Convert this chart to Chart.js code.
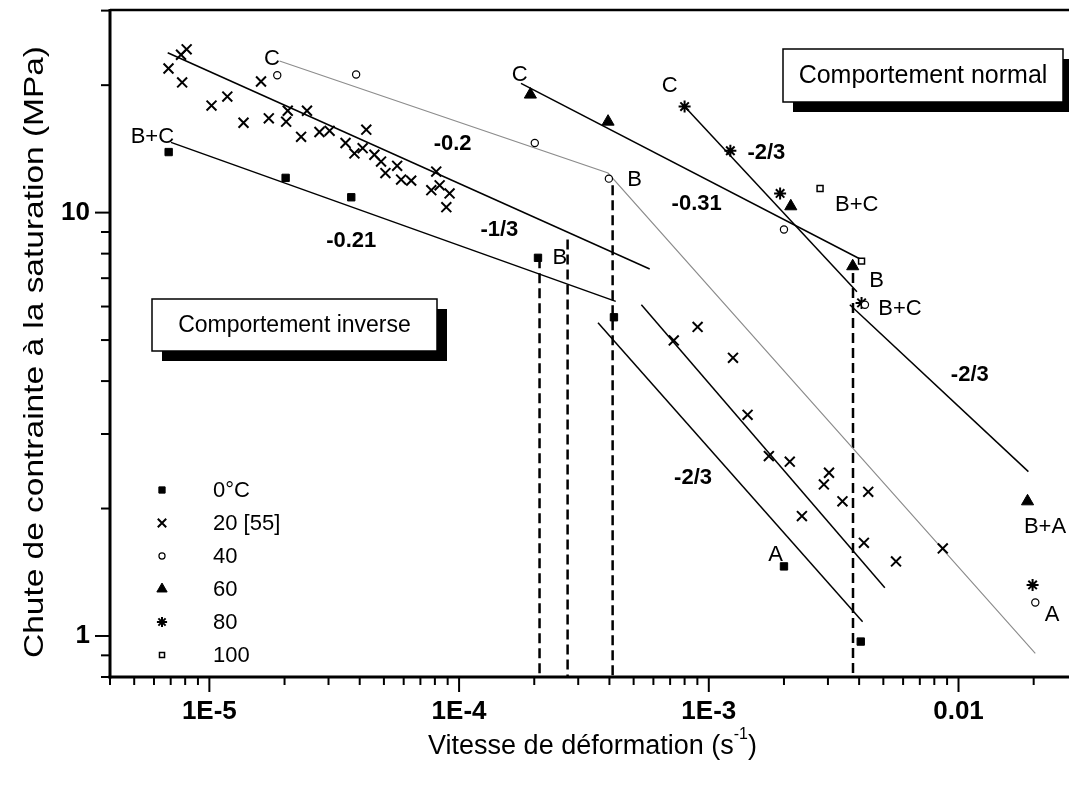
<!DOCTYPE html>
<html><head><meta charset="utf-8">
<script src="https://cdn.jsdelivr.net/npm/chart.js@4/dist/chart.umd.min.js"></script>
<style>html,body{margin:0;padding:0;background:#fff;overflow:hidden}canvas{display:block}</style>
</head><body>
<canvas id="c" width="1069" height="787"></canvas>
<script>
// ---------------- data ----------------
const seriesNames = ['0°C', '20 [55]', '40', '60', '80', '100'];

const rate0 = [6.87e-6, 2.02e-5, 3.70e-5, 2.07e-4, 4.17e-4, 2.0e-3, 4.06e-3];
const drop0 = [13.9, 12.08, 10.87, 7.82, 5.66, 1.46, 0.97];

const rate20 = [8.11e-6, 7.7e-6, 6.86e-6, 7.78e-6, 1.61e-5, 1.02e-5, 1.18e-5, 1.37e-5, 1.73e-5, 2.06e-5,
                2.46e-5, 2.03e-5, 2.33e-5, 2.76e-5, 3.03e-5, 4.25e-5, 3.51e-5, 3.81e-5, 4.11e-5, 4.58e-5,
                4.87e-5, 5.07e-5, 5.65e-5, 5.86e-5, 6.43e-5, 8.1e-5, 7.74e-5, 8.36e-5, 8.89e-5, 9.16e-5,
                7.24e-4, 9.02e-4, 1.25e-3, 1.43e-3, 1.74e-3, 2.11e-3, 3.03e-3, 2.89e-3, 3.43e-3, 4.35e-3,
                2.36e-3, 4.18e-3, 5.62e-3, 8.65e-3];
const drop20 = [24.3, 23.6, 21.9, 20.3, 20.4, 17.9, 18.8, 16.3, 16.7, 17.4,
                17.4, 16.4, 15.1, 15.5, 15.6, 15.7, 14.6, 13.8, 14.2, 13.7,
                13.2, 12.4, 12.9, 11.97, 11.9, 12.5, 11.3, 11.6, 10.3, 11.1,
                4.99, 5.37, 4.54, 3.33, 2.66, 2.58, 2.43, 2.28, 2.08, 2.19,
                1.92, 1.66, 1.50, 1.61];

const rate40 = [1.87e-5, 3.87e-5, 2.01e-4, 3.98e-4, 2.0e-3, 4.22e-3, 0.0203];
const drop40 = [21.1, 21.2, 14.6, 12.03, 9.12, 6.06, 1.20];

const rate60 = [1.93e-4, 3.95e-4, 2.13e-3, 3.77e-3, 0.0189];
const drop60 = [19.0, 16.4, 10.35, 7.47, 2.08];

const rate80 = [8.0e-4, 1.22e-3, 1.93e-3, 4.09e-3, 0.0198];
const drop80 = [17.8, 14.0, 11.1, 6.12, 1.32];

const rate100 = [2.79e-3, 4.09e-3];
const drop100 = [11.4, 7.68];

// fitted trend lines (end points)
const fit0Rate   = [7.02e-6, 4.24e-4];         const fit0Drop   = [14.65, 6.17];
const fit20Rate  = [6.81e-6, 5.8e-4];          const fit20Drop  = [23.85, 7.36];
const fit40Rate  = [1.91e-5, 3.95e-4, 0.0203]; const fit40Drop  = [22.8, 12.4, 0.91];
const fit60Rate  = [1.77e-4, 4.09e-3];         const fit60Drop  = [20.2, 7.74];
const fit80Rate  = [8.0e-4, 3.92e-3];          const fit80Drop  = [17.8, 6.5];
const fit80bRate = [3.67e-3, 0.01905];         const fit80bDrop = [6.06, 2.445];
const fit0bRate  = [3.6e-4, 4.13e-3];          const fit0bDrop  = [5.49, 1.08];
const fit20bRate = [5.37e-4, 5.07e-3];         const fit20bDrop = [6.06, 1.30];

// dashed vertical transitions
const dashRate = [2.10e-4, 2.72e-4, 4.12e-4, 3.78e-3];
const dashTop  = [7.8, 8.64, 11.6, 7.2];

// axes
const xMin = 4e-6, xMax = 0.0277, yMin = 0.8, yMax = 30.1;
const xTickValues = [1e-5, 1e-4, 1e-3, 1e-2];
const xTickLabels = ['1E-5', '1E-4', '1E-3', '0.01'];
const yTickValues = [1, 10];
const yTickLabels = ['1', '10'];

// text annotations anchored in data coordinates
const noteText = ['B+C', 'C', '-0.21', '-0.2', '-1/3', 'B', 'C', 'C', 'B', '-0.31', '-2/3', 'B+C', 'B', 'B+C', '-2/3', 'B+A', 'A', 'A', '-2/3'];
const noteRate = [5.91e-6, 1.78e-5, 3.70e-5, 9.42e-5, 1.45e-4, 2.53e-4, 1.75e-4, 6.98e-4, 5.05e-4, 8.94e-4, 1.70e-3, 3.91e-3, 4.70e-3, 5.83e-3, 0.0111, 0.0222, 0.0237, 1.85e-3, 8.65e-4];
const noteDrop = [15.1, 23.06, 8.55, 14.5, 9.12, 7.83, 21.2, 19.95, 11.97, 10.5, 13.8, 10.45, 6.88, 5.92, 4.14, 1.81, 1.12, 1.55, 2.36];

// ---------------- chart ----------------
const FONT = "'Liberation Sans', Arial, Helvetica, sans-serif";
const pts = (xs, ys) => xs.map((v, i) => ({x: v, y: ys[i]}));

const markerStyles = [
  {style: 'rect',     r: 5.2, fill: '#000', bw: 1},
  {style: 'crossRot', r: 7,   fill: '#000', bw: 2},
  {style: 'circle',   r: 3.6, fill: '#fff', bw: 1.2},
  {style: 'triangle', r: 7,   fill: '#000', bw: 1},
  {style: 'star',     r: 6,   fill: '#000', bw: 2},
  {style: 'rect',     r: 4.2, fill: '#fff', bw: 1.5}
];
const seriesX = [rate0, rate20, rate40, rate60, rate80, rate100];
const seriesY = [drop0, drop20, drop40, drop60, drop80, drop100];

const datasets = [];
seriesX.forEach((xs, i) => {
  const m = markerStyles[i];
  datasets.push({
    label: seriesNames[i], data: pts(xs, seriesY[i]), showLine: false,
    pointStyle: m.style, pointRadius: m.r, pointHoverRadius: m.r,
    pointBorderWidth: m.bw, pointBorderColor: '#000', pointBackgroundColor: m.fill
  });
});
function lineSet(xs, ys, color, width, dash) {
  return {data: pts(xs, ys), showLine: true, pointRadius: 0, borderColor: color,
          borderWidth: width, borderDash: dash || [], fill: false, tension: 0};
}
datasets.push(lineSet(fit0Rate, fit0Drop, '#000', 1.5));
datasets.push(lineSet(fit20Rate, fit20Drop, '#000', 1.5));
datasets.push(lineSet(fit40Rate, fit40Drop, '#8c8c8c', 1.1));
datasets.push(lineSet(fit60Rate, fit60Drop, '#000', 1.5));
datasets.push(lineSet(fit80Rate, fit80Drop, '#000', 1.5));
datasets.push(lineSet(fit80bRate, fit80bDrop, '#000', 1.5));
datasets.push(lineSet(fit0bRate, fit0bDrop, '#000', 1.5));
datasets.push(lineSet(fit20bRate, fit20bDrop, '#000', 1.5));
dashRate.forEach((r, i) => datasets.push(lineSet([r, r], [dashTop[i], yMin], '#000', 2.5, [10, 5])));

function logTicks(min, max) {
  const out = [];
  for (let e = Math.floor(Math.log10(min)); e <= Math.ceil(Math.log10(max)); e++) {
    for (let k = 1; k <= 9; k++) {
      const v = k * Math.pow(10, e);
      if (v >= min * 0.999 && v <= max * 1.001) out.push(v);
    }
  }
  return out;
}
function findLabel(vals, labels, v) {
  const i = vals.findIndex(t => Math.abs(t - v) / t < 1e-6);
  return i >= 0 ? labels[i] : '';
}

const framePlugin = {
  id: 'frame',
  afterDraw(chart) {
    const {ctx, chartArea: a, scales: {x, y}} = chart;
    ctx.save();
    ctx.strokeStyle = '#000';
    ctx.lineCap = 'butt';
    ctx.lineWidth = 3;
    ctx.beginPath(); ctx.moveTo(a.left, a.top - 1); ctx.lineTo(a.left, a.bottom + 1.5); ctx.stroke();
    ctx.beginPath(); ctx.moveTo(a.left - 1.5, a.bottom); ctx.lineTo(a.right, a.bottom); ctx.stroke();
    ctx.lineWidth = 2.5;
    ctx.beginPath(); ctx.moveTo(a.left, a.top); ctx.lineTo(a.right, a.top); ctx.stroke();
    ctx.lineWidth = 2;
    x.ticks.forEach(t => {
      const px = x.getPixelForValue(t.value);
      const len = findLabel(xTickValues, xTickLabels, t.value) ? 15 : 8;
      ctx.beginPath(); ctx.moveTo(px, a.bottom); ctx.lineTo(px, a.bottom + len); ctx.stroke();
    });
    y.ticks.forEach(t => {
      const py = y.getPixelForValue(t.value);
      const len = findLabel(yTickValues, yTickLabels, t.value) ? 15 : 9;
      ctx.beginPath(); ctx.moveTo(a.left, py); ctx.lineTo(a.left - len, py); ctx.stroke();
    });
    // axis titles
    ctx.fillStyle = '#000';
    ctx.textBaseline = 'middle';
    const cx = (a.left + a.right) / 2;
    const main = 'Vitesse de déformation (s', sup = '-1', close = ')';
    ctx.font = '27px ' + FONT; const w1 = ctx.measureText(main).width;
    ctx.font = '16px ' + FONT; const w2 = ctx.measureText(sup).width;
    ctx.font = '27px ' + FONT; const w3 = ctx.measureText(close).width;
    const sx = cx - (w1 + w2 + w3) / 2 + 3;
    const ty = 747;
    ctx.textAlign = 'left';
    ctx.fillText(main, sx, ty);
    ctx.font = '16px ' + FONT; ctx.fillText(sup, sx + w1, ty - 12);
    ctx.font = '27px ' + FONT; ctx.fillText(close, sx + w1 + w2, ty);
    ctx.save();
    ctx.translate(35, 352);
    ctx.rotate(-Math.PI / 2);
    ctx.textAlign = 'center';
    ctx.font = '28px ' + FONT;
    const yt = 'Chute de contrainte à la saturation (MPa)';
    const wt = ctx.measureText(yt).width;
    ctx.scale(612 / wt, 1);
    ctx.fillText(yt, 0, 0);
    ctx.restore();
    ctx.restore();
  },
  afterDatasetsDraw(chart) {
    const {ctx, scales: {x, y}} = chart;
    ctx.save();
    ctx.fillStyle = '#000';
    ctx.textAlign = 'center';
    ctx.textBaseline = 'middle';
    noteText.forEach((t, i) => {
      const bold = t.charAt(0) === '-';
      ctx.font = (bold ? 'bold ' : '') + '22px ' + FONT;
      ctx.fillText(t, x.getPixelForValue(noteRate[i]), y.getPixelForValue(noteDrop[i]));
    });
    function box(x0, y0, x1, y1, text, size) {
      ctx.fillStyle = '#000';
      ctx.fillRect(x0 + 10, y0 + 10, x1 - x0, y1 - y0);
      ctx.fillStyle = '#fff';
      ctx.fillRect(x0, y0, x1 - x0, y1 - y0);
      ctx.strokeStyle = '#000'; ctx.lineWidth = 1.5;
      ctx.strokeRect(x0, y0, x1 - x0, y1 - y0);
      ctx.fillStyle = '#000';
      ctx.font = size + 'px ' + FONT;
      ctx.textAlign = 'center';
      ctx.fillText(text, (x0 + x1) / 2, (y0 + y1) / 2 + 1);
    }
    box(783, 49, 1063, 102, 'Comportement normal', 25);
    box(152, 299, 437, 351, 'Comportement inverse', 23);
    const H = Chart.helpers;
    seriesNames.forEach((name, i) => {
      const m = markerStyles[i];
      const ly = 490 + 33 * i;
      ctx.fillStyle = m.fill; ctx.strokeStyle = '#000'; ctx.lineWidth = m.bw;
      if (H && H.drawPoint) {
        H.drawPoint(ctx, {pointStyle: m.style, radius: m.r * 0.85, rotation: 0, borderWidth: m.bw}, 162, ly);
      }
      ctx.fillStyle = '#000';
      ctx.textAlign = 'left';
      ctx.font = '22px ' + FONT;
      ctx.fillText(name, 213, ly + 1);
    });
    ctx.restore();
  }
};

new Chart(document.getElementById('c'), {
  type: 'scatter',
  data: {datasets},
  options: {
    responsive: false, animation: false, devicePixelRatio: 1,
    layout: {autoPadding: false, padding: {top: 10, left: 0, right: 0, bottom: 0}},
    plugins: {legend: {display: false}, tooltip: {enabled: false}},
    scales: {
      x: {
        type: 'logarithmic', min: xMin, max: xMax, position: 'bottom',
        afterBuildTicks: s => { s.ticks = logTicks(xMin, xMax).map(v => ({value: v})); },
        afterFit: s => { s.height = 110; s.paddingLeft = 0; s.paddingRight = 0; s.paddingTop = 0; s.paddingBottom = 0; },
        grid: {display: false, drawTicks: false}, border: {display: false},
        ticks: {autoSkip: false, maxRotation: 0, minRotation: 0, padding: 19, color: '#000',
                font: {family: FONT, size: 26, weight: 'bold'},
                callback: v => findLabel(xTickValues, xTickLabels, v)}
      },
      y: {
        type: 'logarithmic', min: yMin, max: yMax, position: 'left',
        afterBuildTicks: s => { s.ticks = logTicks(yMin, yMax).map(v => ({value: v})); },
        afterFit: s => { s.width = 110; s.paddingLeft = 0; s.paddingRight = 0; s.paddingTop = 0; s.paddingBottom = 0; },
        grid: {display: false, drawTicks: false}, border: {display: false},
        ticks: {autoSkip: false, padding: 20, color: '#000',
                font: {family: FONT, size: 26, weight: 'bold'},
                callback: v => findLabel(yTickValues, yTickLabels, v)}
      }
    }
  },
  plugins: [framePlugin]
});
</script>
</body></html>
